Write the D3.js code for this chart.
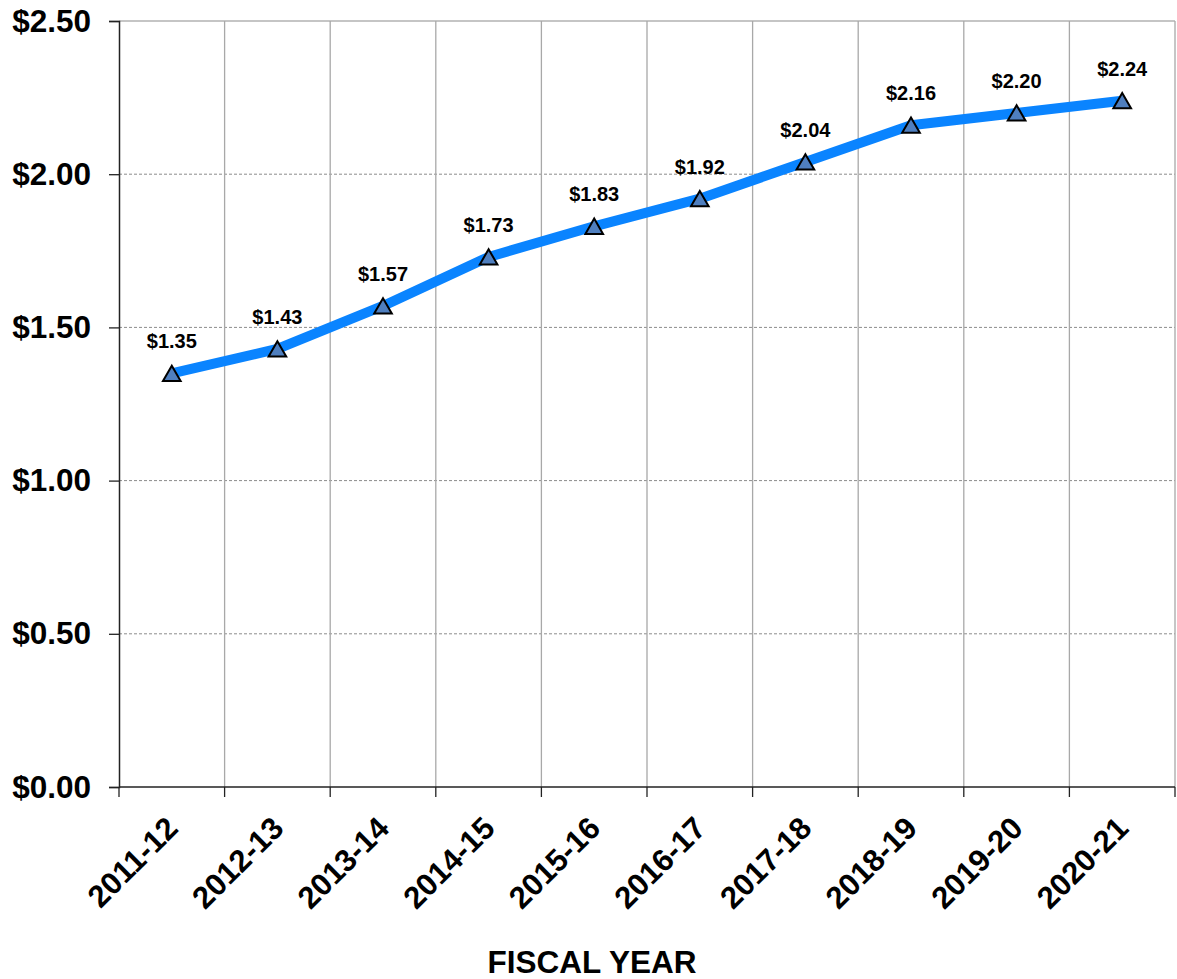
<!DOCTYPE html>
<html>
<head>
<meta charset="utf-8">
<script src="https://cdn.jsdelivr.net/npm/d3@7"></script>
<style>
  html, body { margin: 0; padding: 0; background: #fff; }
  svg { display: block; font-family: "Liberation Sans", Arial, sans-serif; }
</style>
</head>
<body>
<svg id="chart" width="1177" height="979"></svg>
<script>
const categories = ["2011-12","2012-13","2013-14","2014-15","2015-16","2016-17","2017-18","2018-19","2019-20","2020-21"];
const values = [1.35, 1.43, 1.57, 1.73, 1.83, 1.92, 2.04, 2.16, 2.20, 2.24];
const yTicks = [0, 0.5, 1.0, 1.5, 2.0, 2.5];
const xTitle = "FISCAL YEAR";

(function () {
const svg = d3.select("#chart");
const pLeft = 119, pRight = 1175, pTop = 21, pBottom = 787;

const x = d3.scaleBand().domain(categories).range([pLeft, pRight]).paddingInner(0).paddingOuter(0);
const y = d3.scaleLinear().domain([0, 2.5]).range([pBottom, pTop]);

// horizontal dashed gridlines
svg.append("g").selectAll("line").data(yTicks.filter(d => d > 0 && d < 2.5)).join("line")
  .attr("x1", pLeft).attr("x2", pRight)
  .attr("y1", d => y(d)).attr("y2", d => y(d))
  .attr("stroke", "#8c8c8c").attr("stroke-width", 1).attr("stroke-dasharray", "3,2");

// top border line
svg.append("line").attr("x1", pLeft).attr("x2", pRight).attr("y1", y(2.5)).attr("y2", y(2.5))
  .attr("stroke", "#8c8c8c").attr("stroke-width", 1.2);

// vertical gridlines at band boundaries
const bounds = categories.map(c => x(c)).concat([pRight]).slice(1);
svg.append("g").selectAll("line").data(bounds).join("line")
  .attr("x1", d => d).attr("x2", d => d)
  .attr("y1", pTop).attr("y2", pBottom)
  .attr("stroke", "#a8a8a8").attr("stroke-width", 1.3);

// x-axis line and ticks
svg.append("line").attr("x1", pLeft).attr("x2", pRight).attr("y1", pBottom).attr("y2", pBottom)
  .attr("stroke", "#222").attr("stroke-width", 1.5);
svg.append("g").selectAll("line").data([pLeft].concat(bounds)).join("line")
  .attr("x1", d => d).attr("x2", d => d)
  .attr("y1", pBottom).attr("y2", pBottom + 10)
  .attr("stroke", "#222").attr("stroke-width", 1.3);

// y-axis
const yAxis = d3.axisLeft(y).tickValues(yTicks).tickSize(10).tickPadding(18)
  .tickFormat(d => "$" + d3.format(".2f")(d));
const gy = svg.append("g").attr("transform", `translate(${pLeft},0)`).call(yAxis);
gy.select(".domain").attr("stroke", "#222").attr("stroke-width", 1.5);
gy.selectAll(".tick line").attr("stroke", "#222").attr("stroke-width", 1.3);
gy.selectAll(".tick text").attr("font-size", "31.5px").attr("font-weight", "bold")
  .attr("fill", "#000").attr("font-family", "Liberation Sans, Arial, sans-serif");

// x labels rotated
svg.append("g").selectAll("text").data(categories).join("text")
  .attr("transform", d => `translate(${x(d) + x.bandwidth()/2 + 8},${pBottom + 43}) rotate(-45)`)
  .attr("text-anchor", "end")
  .attr("font-size", "31px").attr("font-weight", "bold").attr("fill", "#000")
  .text(d => d);

// line
const line = d3.line().x((d, i) => x(categories[i]) + x.bandwidth()/2).y(d => y(d));
svg.append("path").datum(values).attr("d", line)
  .attr("fill", "none").attr("stroke", "#0a84ff").attr("stroke-width", 10)
  .attr("stroke-linejoin", "round");

// triangle markers
const tri = d3.symbol().type(d3.symbolTriangle).size(135);
svg.append("g").selectAll("path").data(values).join("path")
  .attr("d", tri)
  .attr("transform", (d, i) => `translate(${x(categories[i]) + x.bandwidth()/2},${y(d) + 2.5})`)
  .attr("fill", "#4f7fbf").attr("stroke", "#000").attr("stroke-width", 2);

// data labels
svg.append("g").selectAll("text").data(values).join("text")
  .attr("x", (d, i) => x(categories[i]) + x.bandwidth()/2)
  .attr("y", d => y(d) - 25)
  .attr("text-anchor", "middle")
  .attr("font-size", "20px").attr("font-weight", "bold").attr("fill", "#000")
  .text(d => "$" + d3.format(".2f")(d));

// x title
svg.append("text").attr("x", 592).attr("y", 973).attr("text-anchor", "middle")
  .attr("font-size", "31.5px").attr("font-weight", "bold").attr("fill", "#000")
  .text(xTitle);
})();
</script>
</body>
</html>
